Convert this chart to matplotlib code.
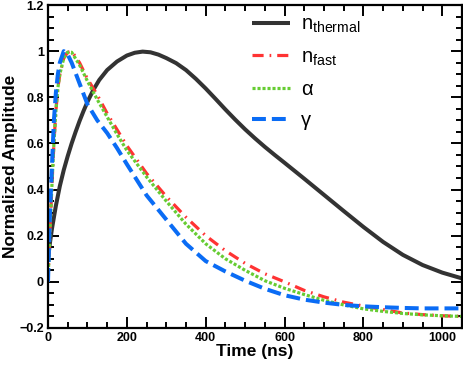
import matplotlib
matplotlib.use("Agg")
import matplotlib.pyplot as plt
from matplotlib.ticker import MultipleLocator, FixedLocator

plt.rcParams['font.family'] = ['Liberation Sans', 'DejaVu Sans']
plt.rcParams['mathtext.fontset'] = 'custom'
plt.rcParams['mathtext.rm'] = 'Liberation Sans'
plt.rcParams['lines.scale_dashes'] = False

# ---- data ----
t_thermal = [0, 5, 10, 20, 30, 40, 50, 60, 70, 80, 90, 100, 115, 130, 150, 175, 200,
             220, 240, 260, 280, 300, 325, 350, 375, 400, 425, 450, 475, 500, 525,
             550, 575, 600, 650, 700, 750, 800, 850, 900, 950, 1000, 1050]
v_thermal = [0.10, 0.17, 0.23, 0.33, 0.415, 0.485, 0.545, 0.60, 0.65, 0.697, 0.74, 0.78,
             0.832, 0.875, 0.918, 0.955, 0.981, 0.993, 0.998, 0.995, 0.985, 0.970, 0.948,
             0.918, 0.880, 0.838, 0.793, 0.747, 0.703, 0.661, 0.622, 0.585, 0.550, 0.516,
             0.447, 0.377, 0.307, 0.238, 0.173, 0.117, 0.073, 0.04, 0.015]

t_fast = [0, 5, 10, 15, 20, 25, 30, 40, 50, 60, 80, 100, 125, 150, 175, 200, 250, 300,
          350, 400, 450, 500, 550, 600, 650, 700, 750, 800, 850, 900, 950, 1000, 1050]
v_nfast = [0.0, 0.22, 0.42, 0.6, 0.74, 0.84, 0.9, 0.97, 0.995, 1.0, 0.95, 0.88, 0.81,
           0.73, 0.66, 0.59, 0.47, 0.37, 0.28, 0.2, 0.135, 0.08, 0.035, 0.0, -0.037,
           -0.065, -0.088, -0.105, -0.12, -0.135, -0.142, -0.147, -0.15]
v_alpha = [0.0, 0.22, 0.42, 0.6, 0.74, 0.84, 0.9, 0.97, 0.995, 0.995, 0.94, 0.87, 0.79,
           0.715, 0.64, 0.57, 0.455, 0.35, 0.25, 0.165, 0.1, 0.05, 0.005, -0.028, -0.055,
           -0.08, -0.1, -0.117, -0.128, -0.137, -0.143, -0.147, -0.15]
v_gamma = [0.0, 0.3, 0.5, 0.7, 0.82, 0.9, 0.95, 1.0, 0.985, 0.95, 0.86, 0.77, 0.7,
           0.645, 0.58, 0.51, 0.375, 0.27, 0.165, 0.09, 0.045, 0.005, -0.03, -0.058,
           -0.077, -0.09, -0.1, -0.106, -0.11, -0.113, -0.115, -0.115, -0.115]

labels = [r'$\mathregular{n_{thermal}}$', r'$\mathregular{n_{fast}}$', 'α', 'γ']
x_ticks = [0, 200, 400, 600, 800, 1000]
y_ticks = [-0.2, 0, 0.2, 0.4, 0.6, 0.8, 1.0, 1.2]
y_ticklabels = ['\u22120.2', '0', '0.2', '0.4', '0.6', '0.8', '1', '1.2']

fig = plt.figure(figsize=(4.63, 3.68), dpi=100)
ax = fig.add_axes([48/463, 1-328/368, 414/463, 323/368])

ax.plot(t_thermal, v_thermal, color='#333333', lw=2.9, label=labels[0],
        solid_capstyle='butt')
ax.plot(t_fast, v_nfast, color='#ff3333', lw=2.3, linestyle=(0, (8, 4.3, 1.2, 4.3)),
        label=labels[1])
ax.plot(t_fast, v_alpha, color='#66cc33', lw=2.3, linestyle=(0, (2.2, 1.4)),
        label=labels[2])
ax.plot(t_fast, v_gamma, color='#0a6cf5', lw=2.9, linestyle=(0, (10, 4.3)),
        label=labels[3])

ax.set_xlim(0, 1050)
ax.set_ylim(-0.2, 1.2)
ax.xaxis.set_major_locator(FixedLocator(x_ticks))
ax.xaxis.set_minor_locator(MultipleLocator(50))
ax.yaxis.set_major_locator(FixedLocator(y_ticks))
ax.yaxis.set_minor_locator(MultipleLocator(0.05))
ax.set_xticklabels([str(v) for v in x_ticks], fontweight='bold', fontsize=9)
ax.set_yticklabels(y_ticklabels, fontweight='bold', fontsize=9)

ax.tick_params(which='both', direction='in', top=True, right=True, width=1.4, color='black')
ax.tick_params(which='major', length=8, pad=3)
ax.tick_params(which='minor', length=4)
for s in ax.spines.values():
    s.set_linewidth(1.6)

ax.set_xlabel('Time (ns)', fontweight='bold', fontsize=12.5, labelpad=0)
ax.set_ylabel('Normalized Amplitude', fontweight='bold', fontsize=12.5, labelpad=1)

leg = ax.legend(loc='upper left', bbox_to_anchor=((252-48)/414, 1-10/323), frameon=False,
                fontsize=14.5, handlelength=1.9, handletextpad=0.55, labelspacing=0.6,
                borderpad=0, borderaxespad=0)

fig.savefig('out.png', dpi=100)
